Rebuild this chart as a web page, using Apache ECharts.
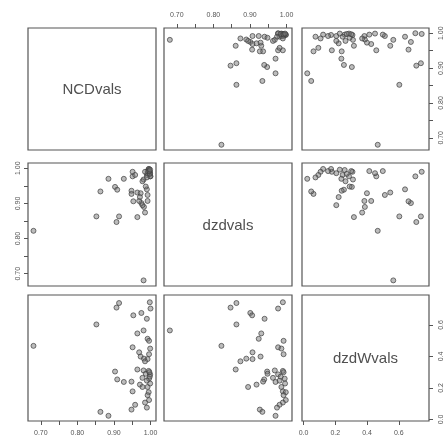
<!DOCTYPE html>
<html><head><meta charset="utf-8">
<script src="https://cdn.jsdelivr.net/npm/echarts@6/dist/echarts.min.js"></script>
<style>html,body{margin:0;padding:0;background:#fff}#c{width:445px;height:443px}</style>
</head><body><div id="c"></div>
<script>
const varNames = ['NCDvals', 'dzdvals', 'dzdWvals'];
const NCDvals = [0.998,0.914,0.907,1.000,0.975,0.953,0.990,0.852,0.981,0.964,0.992,0.996,0.680,0.951,0.999,0.969,0.996,0.973,0.992,0.982,0.985,0.964,0.981,0.903,0.995,0.987,0.999,0.978,0.996,0.909,0.990,0.948,0.927,0.971,0.992,0.978,0.951,0.995,0.992,0.996,0.985,0.958,0.990,0.948,0.863,0.885,0.998,0.997,0.999];
const dzdvals = [0.990,0.863,0.847,0.977,0.901,0.906,0.940,0.863,0.681,0.931,0.924,0.992,0.822,0.977,0.986,0.907,0.992,0.929,0.907,0.890,0.874,0.861,0.968,0.947,0.990,0.948,0.977,0.963,0.995,0.939,0.981,0.936,0.970,0.918,0.986,0.895,0.990,0.998,0.992,0.998,0.990,0.981,0.974,0.927,0.934,0.970,0.984,0.992,0.996];
const dzdWvals = [0.744,0.739,0.710,0.704,0.676,0.661,0.639,0.603,0.565,0.546,0.512,0.499,0.467,0.458,0.450,0.426,0.414,0.399,0.383,0.386,0.369,0.317,0.311,0.304,0.308,0.290,0.286,0.264,0.259,0.254,0.246,0.240,0.238,0.221,0.206,0.206,0.178,0.173,0.154,0.123,0.107,0.093,0.075,0.0625,0.048,0.023,0.272,0.300,0.228];

const unitTicks = [0.70,0.75,0.80,0.85,0.90,0.95,1.00];
const unitLabels = [0.70,0.80,0.90,1.00];
const wTicks = [0.0,0.2,0.4,0.6];
const wLabels = [0.0,0.2,0.4,0.6];

const values = [NCDvals, dzdvals, dzdWvals];
const axisDefs = [
  {min:0.665, max:1.015, ticks:unitTicks, labels:unitLabels, digits:2},
  {min:0.665, max:1.015, ticks:unitTicks, labels:unitLabels, digits:2},
  {min:-0.01, max:0.79, ticks:wTicks, labels:wLabels, digits:1}
];
const cols = [{left:28,width:128},{left:164,width:128},{left:302,width:127}];
const rows = [{top:28,height:122},{top:163,height:123},{top:295,height:126}];

const grid = [], xAxis = [], yAxis = [], series = [], graphic = [];
const tickColor = '#555';
function makeAxis(k, d, pos, isY) {
  const on = pos !== null;
  const ax = {
    gridIndex:k, type:'value', min:d.min, max:d.max, show:on,
    position: pos || (isY ? 'left' : 'bottom'),
    axisLine:{show:false, onZero:false}, splitLine:{show:false}, splitArea:{show:false},
    axisTick:{show:on, length:4, lineStyle:{color:tickColor, width:1}},
    axisLabel:{show:on, formatter:(v)=>Number(v).toFixed(d.digits),
      fontSize:7, color:'#555', fontFamily:'Liberation Sans', margin:9}
  };
  if (on) {
    ax.axisTick.customValues = d.ticks;
    ax.axisLabel.customValues = d.labels;
  }
  if (isY) {
    ax.axisLabel.rotate = 90;
    if (pos === 'left') ax.axisLabel.margin = 6;
  }
  return ax;
}
for (let i = 0; i < 3; i++) {
  for (let j = 0; j < 3; j++) {
    const k = i*3 + j;
    grid.push({left:cols[j].left, width:cols[j].width, top:rows[i].top, height:rows[i].height,
      show:true, borderColor:'#555', borderWidth:1.2, backgroundColor:'transparent', containLabel:false});
    let xPos = null, yPos = null;
    if (i === 0 && j === 1) xPos = 'top';
    if (i === 2 && (j === 0 || j === 2)) xPos = 'bottom';
    if (j === 0 && i === 1) yPos = 'left';
    if (j === 2 && (i === 0 || i === 2)) yPos = 'right';
    xAxis.push(makeAxis(k, axisDefs[j], xPos, false));
    yAxis.push(makeAxis(k, axisDefs[i], yPos, true));
    if (i === j) {
      graphic.push({type:'text', x: cols[j].left + cols[j].width/2, y: rows[i].top + rows[i].height/2 + 1,
        style:{text: varNames[i], font:'15px "Liberation Sans", Arial, sans-serif', fill:'#505050',
          align:'center', verticalAlign:'middle', textAlign:'center', textVerticalAlign:'middle'}});
    } else {
      const xs = values[j], ys = values[i];
      series.push({type:'scatter', xAxisIndex:k, yAxisIndex:k,
        data: xs.map((v, n) => [v, ys[n]]),
        symbol:'circle', symbolSize:5,
        itemStyle:{color:'rgba(115,115,115,0.6)', borderColor:'#404040', borderWidth:0.9},
        silent:true, animation:false});
    }
  }
}

const chart = echarts.init(document.getElementById('c'));
chart.setOption({animation:false, backgroundColor:'#fff', grid, xAxis, yAxis, series, graphic});
</script>
</body></html>
